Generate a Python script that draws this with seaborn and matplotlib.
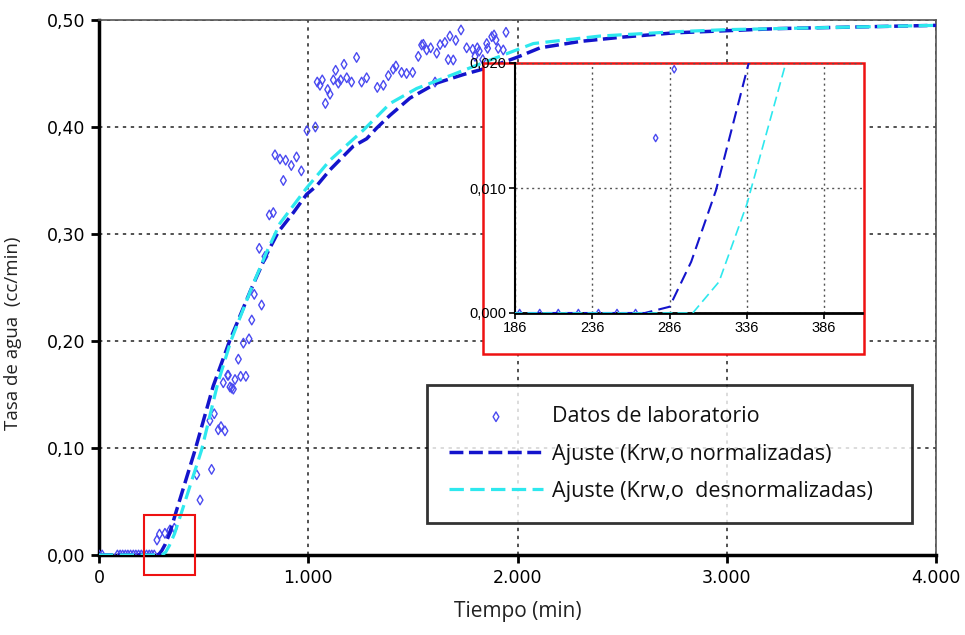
import numpy as np
import pandas as pd
import matplotlib
matplotlib.use("Agg")
import matplotlib.pyplot as plt
from matplotlib.patches import Rectangle
from matplotlib.ticker import FuncFormatter, FixedLocator
import seaborn as sns

# ---------------- data ----------------
lab_t = [0, 15, 88, 101, 113, 126, 138, 151, 164, 176, 189, 202, 214, 227, 240, 252, 264,
         277, 289, 315, 339, 360, 467, 483, 530, 538, 551, 570, 583, 594, 602, 615, 618,
         626, 634, 642, 650, 666, 677, 690, 702, 717, 730, 742, 766, 777, 793, 814, 833,
         841, 865, 881, 892, 919, 944, 967, 994, 1034, 1043, 1056, 1067, 1082, 1093, 1104,
         1120, 1131, 1144, 1155, 1171, 1184, 1207, 1231, 1255, 1279, 1330, 1359, 1383,
         1406, 1419, 1446, 1470, 1499, 1526, 1542, 1550, 1566, 1585, 1606, 1614, 1630,
         1653, 1669, 1677, 1693, 1705, 1730, 1757, 1786, 1797, 1808, 1817, 1834, 1853,
         1857, 1877, 1888, 1897, 1908, 1932, 1945]
lab_q = [0, 0, 0, 0, 0, 0, 0, 0, 0, 0, 0, 0, 0, 0, 0, 0, 0,
         0.0140, 0.0195, 0.0203, 0.0234, 0.0250, 0.075, 0.0514, 0.1255, 0.080, 0.132,
         0.117, 0.120, 0.161, 0.116, 0.168, 0.168, 0.157, 0.156, 0.155, 0.164, 0.183,
         0.167, 0.198, 0.167, 0.202, 0.2196, 0.2436, 0.2866, 0.2336, 0.279, 0.3178,
         0.320, 0.374, 0.370, 0.350, 0.369, 0.364, 0.372, 0.359, 0.3966, 0.400, 0.442,
         0.439, 0.444, 0.422, 0.435, 0.4306, 0.444, 0.453, 0.441, 0.444, 0.4586, 0.446,
         0.442, 0.465, 0.442, 0.446, 0.437, 0.439, 0.448, 0.454, 0.457, 0.451, 0.450,
         0.451, 0.466, 0.4766, 0.4773, 0.472, 0.474, 0.442, 0.469, 0.477, 0.479, 0.463,
         0.485, 0.4626, 0.481, 0.4907, 0.474, 0.4726, 0.466, 0.474, 0.471, 0.463, 0.478,
         0.4735, 0.4844, 0.486, 0.4813, 0.4735, 0.472, 0.4885]

norm_t = [0, 270, 286, 300, 316, 337, 371, 459, 546, 626, 726, 801, 857, 929, 992, 1040,
          1104, 1215, 1279, 1327, 1391, 1486, 1613, 1741, 1869, 1996, 2108, 2300, 2500,
          2750, 3000, 3250, 3500, 3750, 4000]
norm_q = [0, 0, 0.0005, 0.0041, 0.0098, 0.0199, 0.042, 0.098, 0.158, 0.201, 0.248, 0.281,
          0.302, 0.320, 0.337, 0.345, 0.360, 0.382, 0.389, 0.399, 0.411, 0.427, 0.441,
          0.449, 0.456, 0.465, 0.474, 0.480, 0.484, 0.488, 0.490, 0.492, 0.493, 0.494, 0.495]

desn_t = [0, 301, 318, 336, 361, 398, 490, 567, 630, 730, 801, 865, 992, 1104, 1263, 1391,
          1518, 1645, 1789, 1932, 2076, 2394, 2750, 3000, 3500, 4000]
desn_q = [0, 0, 0.0025, 0.0087, 0.0199, 0.042, 0.098, 0.160, 0.200, 0.250, 0.283, 0.310,
          0.343, 0.369, 0.397, 0.422, 0.436, 0.4455, 0.4565, 0.4673, 0.478, 0.485, 0.489,
          0.491, 0.493, 0.495]

x_ticks = [0, 1000, 2000, 3000, 4000]
y_ticks = [0.0, 0.1, 0.2, 0.3, 0.4, 0.5]
inset_x_ticks = [186, 236, 286, 336, 386]
inset_y_ticks = [0.0, 0.010, 0.020]

labels = ["Datos de laboratorio", "Ajuste (Krw,o normalizadas)",
          "Ajuste (Krw,o  desnormalizadas)"]

lab_df = pd.DataFrame({"t": lab_t, "q": lab_q})
norm_df = pd.DataFrame({"t": norm_t, "q": norm_q})
desn_df = pd.DataFrame({"t": desn_t, "q": desn_q})

# ---------------- style ----------------
sns.set_theme(style="white")
plt.rcParams["font.family"] = ["DejaVu Sans"]

C_PTS = "#4a4af0"
C_NORM = "#1414cc"
C_DESN = "#2ee8ee"

fig = plt.figure(figsize=(9.65, 6.35), dpi=100)
ax = fig.add_axes([99 / 965, 1 - 555 / 635, (936 - 99) / 965, (555 - 20) / 635])


def draw(a, lw_n, lw_d, dash_n, dash_d, ms, with_label):
    sns.scatterplot(data=lab_df, x="t", y="q", ax=a, marker="d", s=ms,
                    color=C_PTS, facecolor="none", edgecolor=C_PTS, linewidth=1.0,
                    label=labels[0] if with_label else None, zorder=3, legend=False)
    sns.lineplot(data=norm_df, x="t", y="q", ax=a, color=C_NORM, lw=lw_n,
                 linestyle=(0, dash_n), label=labels[1] if with_label else None,
                 zorder=4, legend=False)
    sns.lineplot(data=desn_df, x="t", y="q", ax=a, color=C_DESN, lw=lw_d,
                 linestyle=(0, dash_d), label=labels[2] if with_label else None,
                 zorder=4, legend=False)


draw(ax, 2.5, 2.3, (4.0, 1.6), (4.5, 2.0), 24, True)

ax.set_xlim(0, 4000)
ax.set_ylim(0, 0.5)
ax.xaxis.set_major_locator(FixedLocator(x_ticks))
ax.yaxis.set_major_locator(FixedLocator(y_ticks))
ax.xaxis.set_major_formatter(FuncFormatter(lambda v, p: f"{int(v):,}".replace(",", ".")))
ax.yaxis.set_major_formatter(FuncFormatter(lambda v, p: f"{v:.2f}".replace(".", ",")))
ax.tick_params(axis="both", direction="out", length=6, width=2, color="black",
               labelsize=12.5, labelcolor="black", bottom=True, left=True, pad=4)
ax.grid(True, color="#222222", linestyle=(0, (2.2, 3.0)), linewidth=1.1)
for s in ["left", "bottom"]:
    ax.spines[s].set_color("black")
    ax.spines[s].set_linewidth(2.5)
for s in ["top", "right"]:
    ax.spines[s].set_color("#555555")
    ax.spines[s].set_linewidth(1.2)

ax.set_xlabel("Tiempo (min)", family=["Open Sans", "DejaVu Sans"], fontsize=15,
              color="#222222", labelpad=10)
ax.set_ylabel("Tasa de agua  (cc/min)", family=["Open Sans", "DejaVu Sans"], fontsize=13.5,
              color="#222222")
ax.yaxis.set_label_coords(-0.092, 0.415)

# small red rectangle marking the zoomed region
ax.add_patch(Rectangle((215, -0.0187), 244, 0.0561, fill=False, edgecolor="#ee1111",
                       linewidth=1.5, clip_on=False, zorder=6))

# legend
leg = ax.legend(loc="upper left", bbox_to_anchor=(0.392, 0.056, 0.579, 0.262),
                mode="expand", borderaxespad=0.0, frameon=True, fancybox=False,
                borderpad=1.0, labelspacing=0.75, handlelength=4.4, handletextpad=0.4,
                prop={"family": ["Open Sans", "DejaVu Sans"], "size": 15.5},
                markerscale=1.0)
leg.get_frame().set_edgecolor("black")
leg.get_frame().set_linewidth(2.0)
for t in leg.get_texts():
    t.set_color("#111111")

# white box with red border behind the inset
fig.add_artist(Rectangle((483 / 965, 1 - 354 / 635), (864 - 483) / 965, (354 - 63) / 635,
                         transform=fig.transFigure, facecolor="white", edgecolor="#ee1111",
                         linewidth=1.8, zorder=5))

# inset
axi = fig.add_axes([515 / 965, 1 - 313 / 635, (862 - 515) / 965, (313 - 63) / 635],
                   zorder=6)
axi.patch.set_alpha(0)
draw(axi, 1.5, 1.2, (6, 3), (6, 3), 14, False)
axi.set_xlim(186, 410.5)
axi.set_ylim(0, 0.020)
axi.xaxis.set_major_locator(FixedLocator(inset_x_ticks))
axi.yaxis.set_major_locator(FixedLocator(inset_y_ticks))
axi.yaxis.set_major_formatter(FuncFormatter(lambda v, p: f"{v:.3f}".replace(".", ",")))
axi.tick_params(axis="both", direction="out", length=4, width=1.2, color="black",
                labelsize=10.5, labelcolor="black", bottom=True, left=True, pad=2)
for lbl in axi.get_xticklabels() + axi.get_yticklabels():
    lbl.set_family(["Liberation Sans Narrow", "Liberation Sans", "DejaVu Sans"])
axi.grid(True, color="#555555", linestyle=(0, (1.5, 2.5)), linewidth=1.0)
axi.spines["top"].set_visible(False)
axi.spines["right"].set_visible(False)
axi.spines["left"].set_color("black")
axi.spines["left"].set_linewidth(1.5)
axi.spines["bottom"].set_color("black")
axi.spines["bottom"].set_linewidth(2.0)
axi.set_xlabel("")
axi.set_ylabel("")

fig.savefig("out.png", dpi=100)
